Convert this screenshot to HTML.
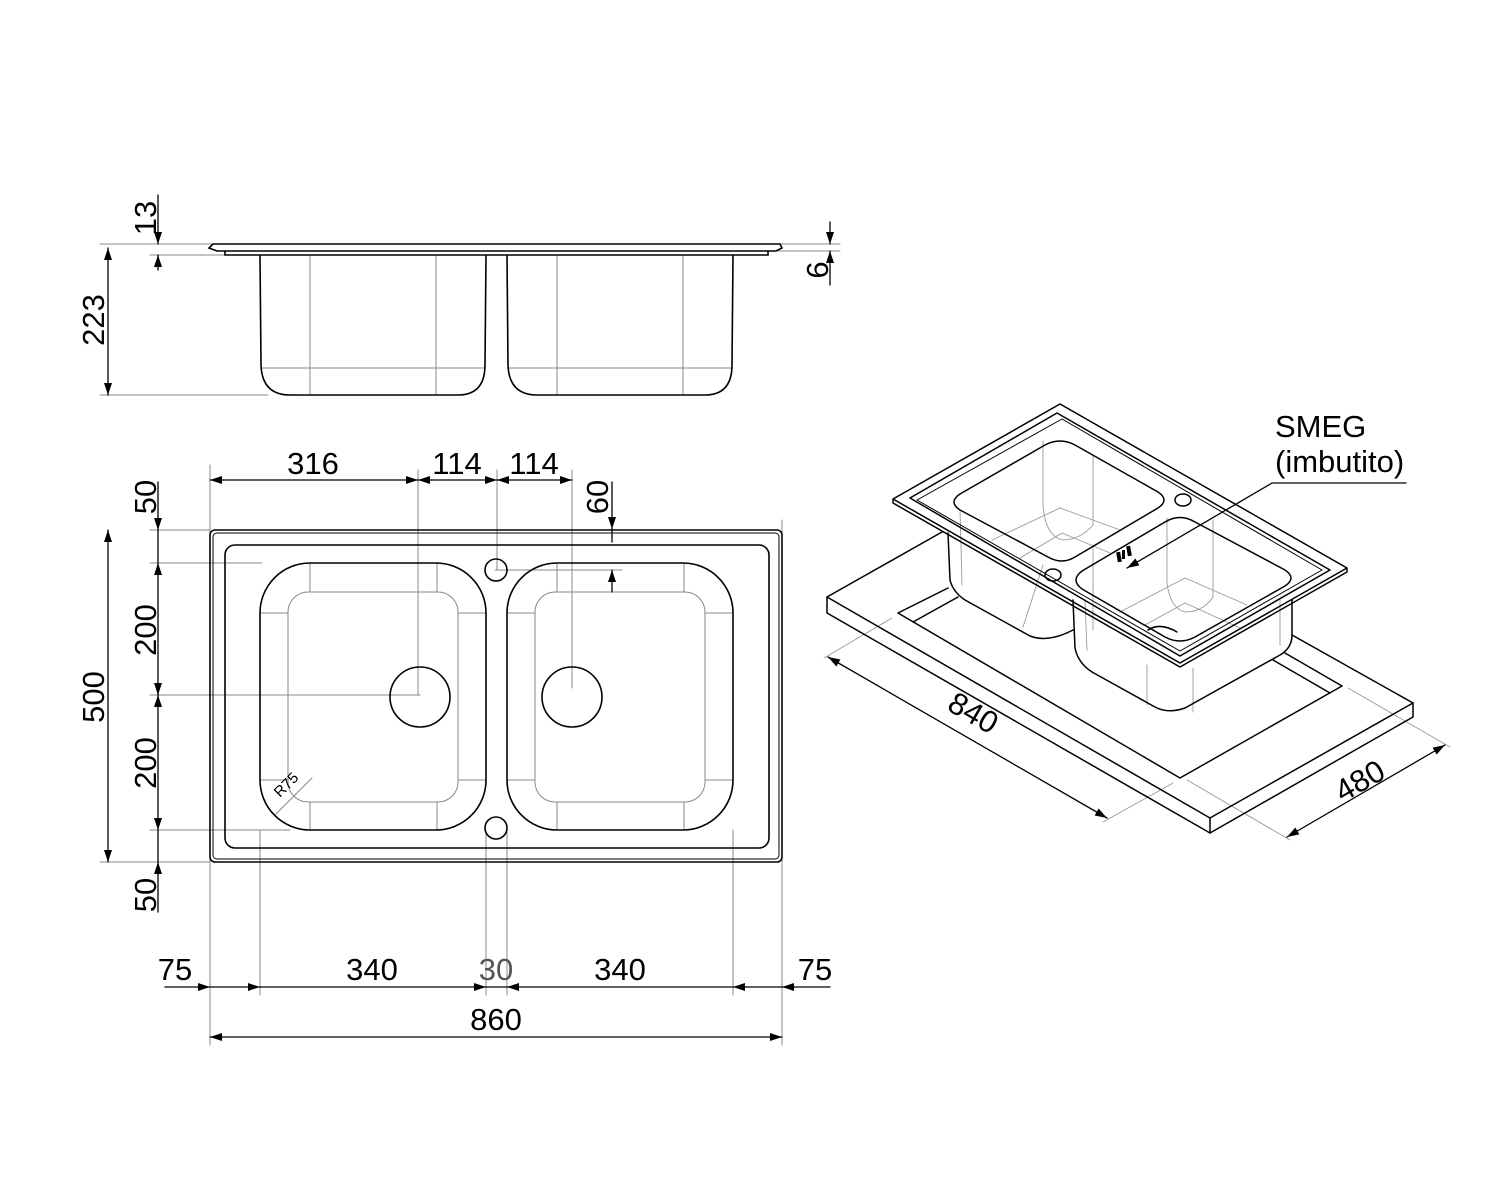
<!DOCTYPE html>
<html><head><meta charset="utf-8"><style>
html,body{margin:0;padding:0;background:#fff;}
svg{display:block;}
text{font-family:"Liberation Sans",Arial,sans-serif;font-size:31px;fill:#000;}
</style></head><body>
<svg width="1500" height="1200" viewBox="0 0 1500 1200" xmlns="http://www.w3.org/2000/svg">
<defs>
<marker id="a" viewBox="0 0 12 8" refX="12" refY="4" markerWidth="13" markerHeight="8" markerUnits="userSpaceOnUse" orient="auto-start-reverse"><path d="M0,0 L12,4 L0,8 z" fill="#000"/></marker>
</defs>
<g fill="none" stroke-linecap="round">

<!-- SIDE VIEW -->
<g stroke="#888" stroke-width="1">
<line x1="100" y1="244" x2="215" y2="244"/><line x1="150" y1="255" x2="225" y2="255"/>
<line x1="100" y1="395" x2="268" y2="395"/>
<line x1="778" y1="244" x2="840" y2="244"/><line x1="768" y1="251" x2="840" y2="251"/>
<line x1="310" y1="256" x2="310" y2="395"/><line x1="436" y1="256" x2="436" y2="395"/>
<line x1="557" y1="256" x2="557" y2="395"/><line x1="683" y1="256" x2="683" y2="395"/>
<line x1="262" y1="368" x2="484" y2="368"/><line x1="509" y1="368" x2="731" y2="368"/>
</g>
<g stroke="#000" stroke-width="1.6">
<path d="M213,244 L780,244 L782,248 L776,251 L217,251 L209,248 Z"/>
<path d="M225,251 L225,255 L768,255 L768,251"/>
<path d="M260,256 L261,365 Q262,395 290,395 L458,395 Q485,395 485,365 L486,256"/>
<path d="M507,256 L508,365 Q509,395 537,395 L705,395 Q732,395 732,365 L733,256"/>
</g>
<g stroke="#000" stroke-width="1.3">
<line x1="158" y1="195" x2="158" y2="244" marker-end="url(#a)"/>
<line x1="158" y1="270" x2="158" y2="255" marker-end="url(#a)"/>
<line x1="108" y1="248" x2="108" y2="395" marker-start="url(#a)" marker-end="url(#a)"/>
<line x1="830" y1="222" x2="830" y2="244" marker-end="url(#a)"/>
<line x1="830" y1="285" x2="830" y2="251" marker-end="url(#a)"/>
</g>

<!-- PLAN VIEW grey lines -->
<g stroke="#888" stroke-width="1">
<line x1="210" y1="465" x2="210" y2="995"/><line x1="782" y1="520" x2="782" y2="1045"/>
<line x1="418" y1="470" x2="418" y2="695"/><line x1="497" y1="470" x2="497" y2="570"/>
<line x1="572" y1="470" x2="572" y2="688"/>
<line x1="150" y1="530" x2="210" y2="530"/><line x1="150" y1="563" x2="262" y2="563"/>
<line x1="150" y1="695" x2="420" y2="695"/><line x1="150" y1="830" x2="290" y2="830"/>
<line x1="100" y1="862" x2="210" y2="862"/>
<line x1="495" y1="570" x2="622" y2="570"/>
<line x1="260" y1="830" x2="260" y2="995"/><line x1="486" y1="830" x2="486" y2="995"/>
<line x1="507" y1="830" x2="507" y2="995"/><line x1="733" y1="830" x2="733" y2="995"/>
<line x1="210" y1="862" x2="210" y2="1045"/>
<rect x="288" y="592" width="170" height="210" rx="20"/>
<rect x="535" y="592" width="170" height="210" rx="20"/>
<line x1="310" y1="563" x2="310" y2="592"/><line x1="437" y1="563" x2="437" y2="592"/>
<line x1="310" y1="802" x2="310" y2="830"/><line x1="437" y1="802" x2="437" y2="830"/>
<line x1="260" y1="613" x2="288" y2="613"/><line x1="458" y1="613" x2="486" y2="613"/>
<line x1="260" y1="780" x2="288" y2="780"/><line x1="458" y1="780" x2="486" y2="780"/>
<line x1="557" y1="563" x2="557" y2="592"/><line x1="684" y1="563" x2="684" y2="592"/>
<line x1="557" y1="802" x2="557" y2="830"/><line x1="684" y1="802" x2="684" y2="830"/>
<line x1="507" y1="613" x2="535" y2="613"/><line x1="705" y1="613" x2="733" y2="613"/>
<line x1="507" y1="780" x2="535" y2="780"/><line x1="705" y1="780" x2="733" y2="780"/>
<line x1="275" y1="815" x2="312" y2="778"/>
</g>
<g stroke="#000" stroke-width="1.6">
<rect x="210" y="530" width="572" height="332" rx="5"/>
<rect x="213" y="533" width="566" height="326" rx="4" stroke-width="1"/>
<rect x="225" y="545" width="544" height="303" rx="10"/>
<rect x="260" y="563" width="226" height="267" rx="50"/>
<rect x="507" y="563" width="226" height="267" rx="50"/>
<circle cx="420" cy="697" r="30"/><circle cx="572" cy="697" r="30"/>
<circle cx="496" cy="570" r="11"/><circle cx="496" cy="828" r="11"/>
</g>
<text transform="translate(280,798) rotate(-45)" style="font-size:15px">R75</text>

<!-- plan dims -->
<g stroke="#000" stroke-width="1.3">
<line x1="210" y1="480" x2="418" y2="480" marker-start="url(#a)" marker-end="url(#a)"/>
<line x1="418" y1="480" x2="497" y2="480" marker-start="url(#a)" marker-end="url(#a)"/>
<line x1="497" y1="480" x2="572" y2="480" marker-start="url(#a)" marker-end="url(#a)"/>
<line x1="612" y1="482" x2="612" y2="529" marker-end="url(#a)"/>
<line x1="612" y1="529" x2="612" y2="542"/>
<line x1="612" y1="592" x2="612" y2="570" marker-end="url(#a)"/>
<line x1="158" y1="482" x2="158" y2="530" marker-end="url(#a)"/>
<line x1="158" y1="530" x2="158" y2="563"/>
<line x1="158" y1="563" x2="158" y2="695" marker-start="url(#a)" marker-end="url(#a)"/>
<line x1="158" y1="695" x2="158" y2="830" marker-start="url(#a)" marker-end="url(#a)"/>
<line x1="158" y1="830" x2="158" y2="862"/>
<line x1="158" y1="912" x2="158" y2="862" marker-end="url(#a)"/>
<line x1="108" y1="530" x2="108" y2="862" marker-start="url(#a)" marker-end="url(#a)"/>
<line x1="165" y1="987" x2="210" y2="987" marker-end="url(#a)"/>
<line x1="210" y1="987" x2="260" y2="987" marker-end="url(#a)"/>
<line x1="260" y1="987" x2="486" y2="987" marker-end="url(#a)"/>
<line x1="486" y1="987" x2="507" y2="987"/>
<line x1="507" y1="987" x2="733" y2="987" marker-start="url(#a)"/>
<line x1="733" y1="987" x2="782" y2="987" marker-start="url(#a)"/>
<line x1="782" y1="987" x2="830" y2="987" marker-start="url(#a)"/>
<line x1="210" y1="1037" x2="782" y2="1037" marker-start="url(#a)" marker-end="url(#a)"/>
</g>

<!-- ISO VIEW -->
<!-- grey ext lines & interior -->
<g stroke="#999" stroke-width="0.9">
<line x1="824" y1="658" x2="892" y2="618"/>
<line x1="1103" y1="822" x2="1173" y2="783"/>
<line x1="1187" y1="780" x2="1290" y2="840"/>
<line x1="1348" y1="688" x2="1450" y2="747"/>
<!-- left bowl interior -->
<path d="M1043,441 L1043,505 Q1045,535 1062,540 Q1080,540 1093,525 L1093,455"/>
<path d="M992,540 L1060,508 L1120,530"/>
<path d="M1020,558 L1062,533 L1110,553"/>
<path d="M1043,565 L1023,627 M1093,545 L1093,630 M960,510 L962,585"/>
<!-- right bowl interior -->
<path d="M1167,518 L1167,583 Q1170,608 1185,612 Q1203,612 1213,597 L1213,520"/>
<path d="M1120,612 L1185,578 L1247,605"/>
<path d="M1145,625 L1185,603 L1240,628"/>
<path d="M1147,665 L1147,705 M1193,668 L1193,712 M1085,600 L1087,650 M1280,600 L1280,645"/>
</g>
<g stroke="#000" stroke-width="1.5" stroke-linejoin="round">
<!-- countertop -->
<path d="M827,597 L942,532"/>
<path d="M827,597 L1210,818 L1413,703 L1413,717 L1210,833 L827,613 Z"/>
<line x1="1210" y1="818" x2="1210" y2="833"/>
<line x1="1413" y1="703" x2="1292" y2="635"/>
<!-- cutout -->
<path d="M948,588 L898,613 L1180,778 L1342,686 L1285,653"/>
<path d="M958,597 L913,622 M1273,660 L1330,693"/>
<!-- left bowl body -->
<path d="M948,533 L950,580 Q953,592 965,600 L1030,636 Q1048,643 1073,630"/>
<!-- right bowl body -->
<path d="M1073,600 L1075,648 Q1078,663 1092,672 L1155,707 Q1168,714 1185,708 L1280,655 Q1292,648 1292,635 L1292,600"/>
<!-- sink rim -->
<path d="M1060,404 L893,499 L893,503 L1180,667 L1347,572 L1347,568 L1180,663 L893,499 M1060,404 L1347,568"/>
<path d="M1057,413 L910,498 L1180,656 L1330,570 Z"/>
<path d="M1062,419 L917,500 L1180,651 L1322,570 Z" stroke-width="1"/>
<!-- left bowl top outline -->
<path d="M960,494 L1045,445 Q1060,437 1075,445 L1158,492 Q1170,500 1158,508 L1075,557 Q1062,565 1048,557 L960,510 Q948,502 960,494 Z"/>
<!-- right bowl top outline -->
<path d="M1082,571 L1165,522 Q1180,513 1195,522 L1285,570 Q1297,578 1285,586 L1195,637 Q1180,645 1165,637 L1082,589 Q1070,580 1082,571 Z"/>
<ellipse cx="1183" cy="500" rx="8" ry="6"/><ellipse cx="1053" cy="575" rx="8" ry="6"/>
<path d="M1148,630 Q1160,622 1177,632"/>
</g>
<rect x="1117" y="552" width="4" height="10" fill="#000" transform="rotate(-10 1119 557)"/><rect x="1122" y="550" width="3" height="9" fill="#000"/><rect x="1127" y="546" width="4" height="10" fill="#000" transform="rotate(-10 1129 551)"/>
<g stroke="#000" stroke-width="1.3">
<line x1="1272" y1="483" x2="1406" y2="483"/>
<line x1="1272" y1="483" x2="1127" y2="568" marker-end="url(#a)"/>
<line x1="828" y1="657" x2="1107" y2="818" marker-start="url(#a)" marker-end="url(#a)"/>
<line x1="1287" y1="837" x2="1445" y2="745" marker-start="url(#a)" marker-end="url(#a)"/>
</g>
</g>

<!-- texts -->
<text x="313" y="474" text-anchor="middle">316</text>
<text x="457" y="474" text-anchor="middle">114</text>
<text x="534" y="474" text-anchor="middle">114</text>
<text transform="translate(608,497) rotate(-90)" text-anchor="middle">60</text>
<text transform="translate(156,497) rotate(-90)" text-anchor="middle">50</text>
<text transform="translate(156,630) rotate(-90)" text-anchor="middle">200</text>
<text transform="translate(156,763) rotate(-90)" text-anchor="middle">200</text>
<text transform="translate(156,895) rotate(-90)" text-anchor="middle">50</text>
<text transform="translate(104,697) rotate(-90)" text-anchor="middle">500</text>
<text transform="translate(156,218) rotate(-90)" text-anchor="middle">13</text>
<text transform="translate(104,320) rotate(-90)" text-anchor="middle">223</text>
<text transform="translate(828,270) rotate(-90)" text-anchor="middle">6</text>
<text x="175" y="980" text-anchor="middle">75</text>
<text x="372" y="980" text-anchor="middle">340</text>
<text x="496" y="980" text-anchor="middle" style="fill:#555">30</text>
<text x="620" y="980" text-anchor="middle">340</text>
<text x="815" y="980" text-anchor="middle">75</text>
<text x="496" y="1030" text-anchor="middle">860</text>
<text x="1275" y="437">SMEG</text>
<text x="1275" y="472">(imbutito)</text>
<text transform="translate(968,722) rotate(30)" text-anchor="middle">840</text>
<text transform="translate(1365,790) rotate(-30)" text-anchor="middle">480</text>
</svg>
</body></html>
